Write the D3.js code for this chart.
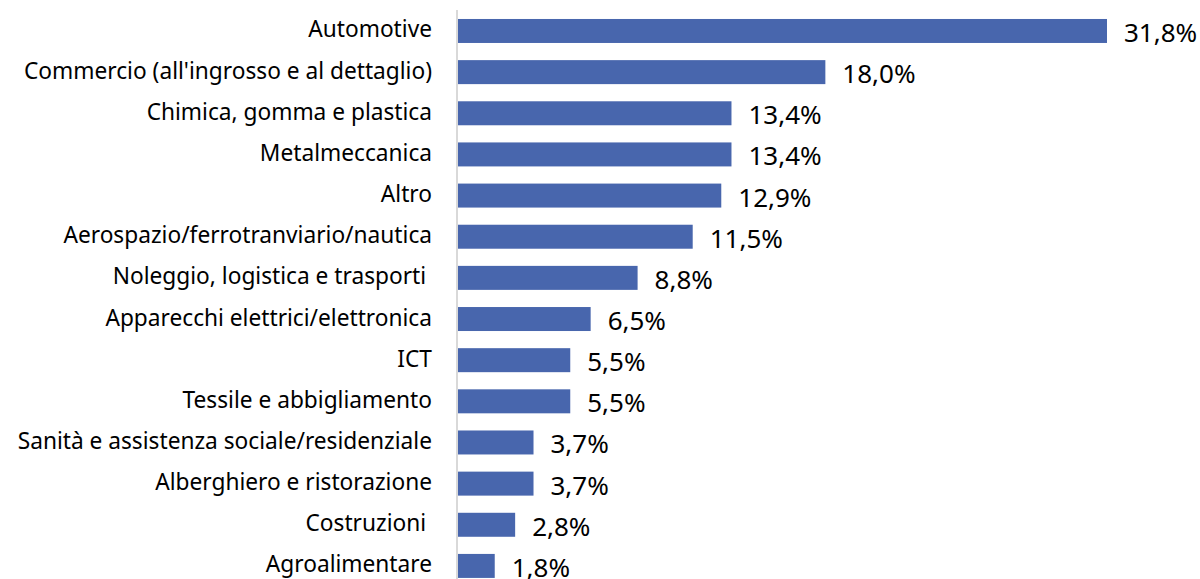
<!DOCTYPE html>
<html>
<head>
<meta charset="utf-8">
<script src="https://cdn.jsdelivr.net/npm/d3@7"></script>
<style>
  html, body { margin: 0; padding: 0; background: #fff; }
  svg { display: block; }
  .cat { font-family: 'Noto Sans', sans-serif; font-size: 22.7px; fill: #000; white-space: pre; }
  .val { font-family: 'Noto Sans', sans-serif; font-size: 26px; fill: #000; }
</style>
</head>
<body>
<svg id="chart" width="1200" height="579"></svg>
<script>
const categories = [
  'Automotive',
  "Commercio (all'ingrosso e al dettaglio)",
  'Chimica, gomma e plastica',
  'Metalmeccanica',
  'Altro',
  'Aerospazio/ferrotranviario/nautica',
  'Noleggio, logistica e trasporti ',
  'Apparecchi elettrici/elettronica',
  'ICT',
  'Tessile e abbigliamento',
  'Sanità e assistenza sociale/residenziale',
  'Alberghiero e ristorazione',
  'Costruzioni ',
  'Agroalimentare'
];
const values = [31.8, 18.0, 13.4, 13.4, 12.9, 11.5, 8.8, 6.5, 5.5, 5.5, 3.7, 3.7, 2.8, 1.8];

const svg = d3.select('#chart');
const x0 = 458;

const x = d3.scaleLinear().domain([0, 31.8]).range([x0, 1107]);
const y = d3.scaleBand()
  .domain(categories)
  .range([10.4, 10.4 + 14 * 41.15])
  .paddingInner(0.417)
  .paddingOuter(0.2085);

const fmt = v => d3.format('.1f')(v).replace('.', ',') + '%';

svg.append('g').selectAll('rect')
  .data(values)
  .join('rect')
  .attr('x', x(0))
  .attr('y', (d, i) => y(categories[i]))
  .attr('width', d => x(d) - x(0))
  .attr('height', y.bandwidth())
  .attr('fill', '#4866ad');

// vertical axis line
svg.append('line')
  .attr('x1', x0 - 1).attr('x2', x0 - 1)
  .attr('y1', 10).attr('y2', 579)
  .attr('stroke', '#d9d9d9')
  .attr('stroke-width', 2);

svg.append('g').selectAll('text')
  .data(categories)
  .join('text')
  .attr('class', 'cat')
  .attr('x', 432)
  .attr('y', d => y(d) + y.bandwidth() / 2 - 2)
  .attr('text-anchor', 'end')
  .attr('dominant-baseline', 'central')
  .text(d => d);

svg.append('g').selectAll('text')
  .data(values)
  .join('text')
  .attr('class', 'val')
  .attr('x', d => x(d) + 17)
  .attr('y', (d, i) => y(categories[i]) + y.bandwidth() / 2 + 1)
  .attr('dominant-baseline', 'central')
  .text(fmt);
</script>
</body>
</html>
